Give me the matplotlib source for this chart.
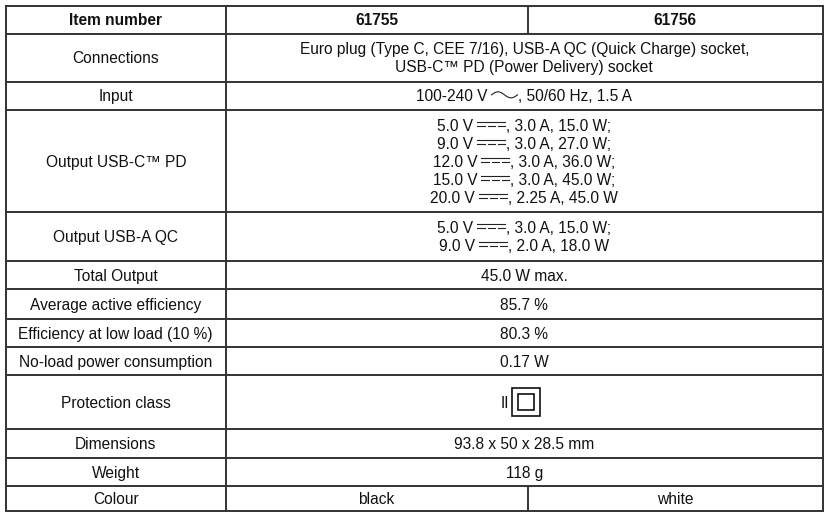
import matplotlib
matplotlib.use('Agg')
import matplotlib.pyplot as plt
import numpy as np
from matplotlib.patches import Rectangle

plt.rcParams['font.family'] = ['Liberation Sans Narrow', 'Liberation Sans', 'DejaVu Sans']

# Table content
row_labels = ["Item number", "Connections", "Input", "Output USB-C\u2122 PD", "Output USB-A QC",
              "Total Output", "Average active efficiency", "Efficiency at low load (10 %)",
              "No-load power consumption", "Protection class", "Dimensions", "Weight", "Colour"]
item_numbers = ["61755", "61756"]
connections = ["Euro plug (Type C, CEE 7/16), USB-A QC (Quick Charge) socket,",
               "USB-C\u2122 PD (Power Delivery) socket"]
input_volts = "100-240 V"
input_rest = ", 50/60 Hz, 1.5 A"
pd_volts = [5.0, 9.0, 12.0, 15.0, 20.0]
pd_amps = [3.0, 3.0, 3.0, 3.0, 2.25]
pd_watts = [15.0, 27.0, 36.0, 45.0, 45.0]
qc_volts = [5.0, 9.0]
qc_amps = [3.0, 2.0]
qc_watts = [15.0, 18.0]
total_output = "45.0 W max."
avg_efficiency = "85.7 %"
low_load_eff = "80.3 %"
no_load = "0.17 W"
protection = "II"
dimensions = "93.8 x 50 x 28.5 mm"
weight = "118 g"
colours = ["black", "white"]

# layout (pixels)
row_edges = [5.5, 33.7, 81.7, 110, 212, 261, 289, 319, 347, 375, 429, 458, 486, 511]
x_left, x_mid1, x_mid2, x_right = 6, 225.5, 527.5, 823
FS_PX = 15.5
fs = FS_PX * 0.72
cap = 0.716 * FS_PX
LS = 18
line_col = '#333333'

fig = plt.figure(figsize=(8.27, 5.12), dpi=100)
ax = fig.add_axes([0, 0, 1, 1])
ax.set_xlim(0, 827)
ax.set_ylim(512, 0)
ax.axis('off')
renderer = fig.canvas.get_renderer()


def text_width(s, weight='normal'):
    t = ax.text(0, 0, s, fontsize=fs, weight=weight)
    w = t.get_window_extent(renderer).width
    t.remove()
    return w


def draw_dc(x, yc, w=28):
    ax.plot([x, x + w], [yc - 3.5, yc - 3.5], color='#222222', lw=0.8)
    dash = (w - 6) / 3
    for i in range(3):
        x0 = x + i * (dash + 3)
        ax.plot([x0, x0 + dash], [yc + 0.5, yc + 0.5], color='#222222', lw=0.8)


def draw_ac(x, yc, w=26):
    t = np.linspace(0, 1, 60)
    ax.plot(x + t * w, yc - 1 - 3 * np.sin(2 * np.pi * t), color='#222222', lw=0.8)


SYM_W = {'DC': 28, 'AC': 26}


def draw_parts(xc, yc, parts, weight='normal'):
    widths = []
    for p in parts:
        if p in SYM_W:
            widths.append(SYM_W[p] + 5)
        else:
            widths.append(text_width(p, weight))
    x = xc - sum(widths) / 2
    base = yc + cap / 2
    for p, w in zip(parts, widths):
        if p == 'DC':
            draw_dc(x + 4, yc)
        elif p == 'AC':
            draw_ac(x + 4, yc)
        else:
            ax.text(x, base, p, fontsize=fs, weight=weight, color='#111111', va='baseline', ha='left')
        x += w


def draw_lines(xc, r, lines, weight='normal'):
    ymid = (row_edges[r] + row_edges[r + 1]) / 2
    n = len(lines)
    for i, parts in enumerate(lines):
        draw_parts(xc, ymid + (i - (n - 1) / 2) * LS, parts, weight)


c1 = (x_left + x_mid1) / 2
c23 = (x_mid1 + x_right) / 2
c2 = (x_mid1 + x_mid2) / 2
c3 = (x_mid2 + x_right) / 2

# grid
for y in row_edges:
    ax.plot([x_left, x_right], [y, y], color=line_col, lw=1.4, solid_capstyle='projecting')
for x in [x_left, x_mid1, x_right]:
    ax.plot([x, x], [row_edges[0], row_edges[-1]], color=line_col, lw=1.4)
ax.plot([x_mid2, x_mid2], [row_edges[0], row_edges[1]], color=line_col, lw=1.4)
ax.plot([x_mid2, x_mid2], [row_edges[-2], row_edges[-1]], color=line_col, lw=1.4)

# first column
for r, lab in enumerate(row_labels):
    draw_lines(c1, r, [[lab]], weight='bold' if r == 0 else 'normal')

# header
draw_lines(c2, 0, [[item_numbers[0]]], weight='bold')
draw_lines(c3, 0, [[item_numbers[1]]], weight='bold')

draw_lines(c23, 1, [[s] for s in connections])
draw_lines(c23, 2, [[input_volts, 'AC', input_rest]])

pd_lines = []
for i, (v, a, w) in enumerate(zip(pd_volts, pd_amps, pd_watts)):
    end = ';' if i < len(pd_volts) - 1 else ''
    pd_lines.append([f"{v:.1f} V", 'DC', f", {a} A, {w:.1f} W{end}"])
draw_lines(c23, 3, pd_lines)

qc_lines = []
for i, (v, a, w) in enumerate(zip(qc_volts, qc_amps, qc_watts)):
    end = ';' if i < len(qc_volts) - 1 else ''
    qc_lines.append([f"{v:.1f} V", 'DC', f", {a} A, {w:.1f} W{end}"])
draw_lines(c23, 4, qc_lines)

draw_lines(c23, 5, [[total_output]])
draw_lines(c23, 6, [[avg_efficiency]])
draw_lines(c23, 7, [[low_load_eff]])
draw_lines(c23, 8, [[no_load]])

# protection class: "II" plus double square
ymid = (row_edges[9] + row_edges[10]) / 2
draw_parts(505, ymid, [protection])
ax.add_patch(Rectangle((512, ymid - 14), 28, 28, fill=False, ec='#111111', lw=1.2))
ax.add_patch(Rectangle((518, ymid - 8), 16, 16, fill=False, ec='#111111', lw=1.2))

draw_lines(c23, 10, [[dimensions]])
draw_lines(c23, 11, [[weight]])
draw_lines(c2, 12, [[colours[0]]])
draw_lines(c3, 12, [[colours[1]]])

fig.savefig('out.png', dpi=100)
